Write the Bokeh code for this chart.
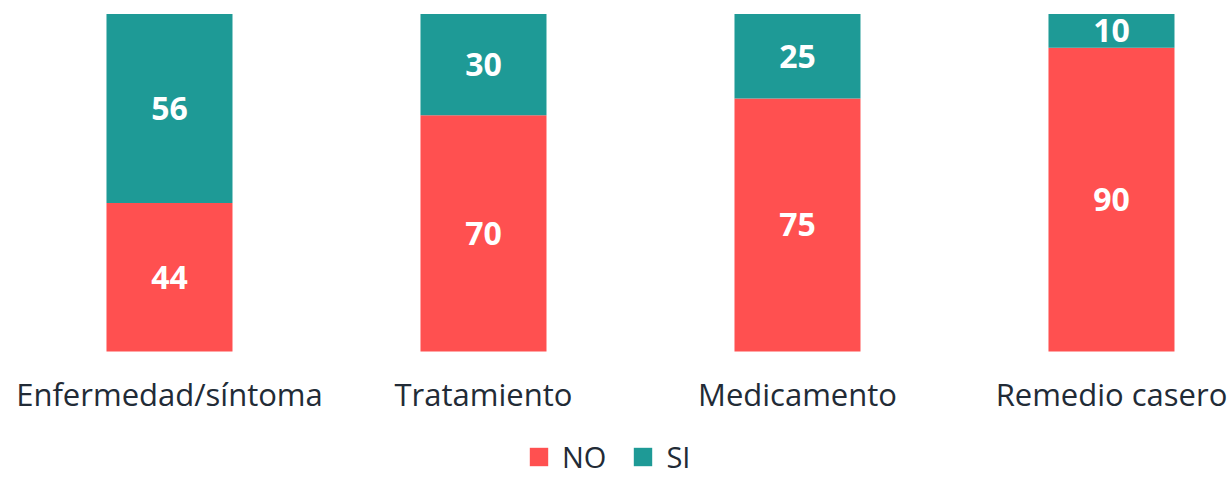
from bokeh.plotting import figure
from bokeh.models import ColumnDataSource, Range1d, Legend, LegendItem
from bokeh.core.properties import value
from bokeh.embed import file_html
from bokeh.resources import INLINE

categories = ["Enfermedad/síntoma", "Tratamiento", "Medicamento", "Remedio casero"]
no_values = [44, 70, 75, 90]
si_values = [56, 30, 25, 10]

RED = "#FF5050"
TEAL = "#1E9A96"
TEXT = "#222B36"

xs = list(range(len(categories)))
source = ColumnDataSource(dict(x=xs, NO=no_values, SI=si_values))

p = figure(frame_width=1232, frame_height=477, x_range=Range1d(-0.5382, 3.3854), y_range=Range1d(-37.33, 104.0),
           output_backend="svg", toolbar_location=None, x_axis_location=None, y_axis_location=None,
           min_border=0)
p.outline_line_color = None
p.xgrid.visible = False
p.ygrid.visible = False

rs = p.vbar_stack(["NO", "SI"], x="x", width=0.4013, color=[RED, TEAL], line_color=None, source=source)

lab = ColumnDataSource(dict(
    x=xs + xs,
    y=[v / 2 for v in no_values] + [n + s / 2 for n, s in zip(no_values, si_values)],
    t=[str(v) for v in no_values] + [str(v) for v in si_values],
))
p.text(x="x", y="y", text="t", source=lab, text_align="center", text_baseline="middle",
       text_color="white", text_font=value("Open Sans"), text_font_style="bold", text_font_size="32px")

cat_src = ColumnDataSource(dict(x=xs, y=[-12.6] * len(xs), t=categories))
p.text(x="x", y="y", text="t", source=cat_src, text_align="center", text_baseline="middle",
       text_color=TEXT, text_font=value("Open Sans"), text_font_size="31px")

legend = Legend(items=[LegendItem(label="NO", renderers=[rs[0]]), LegendItem(label="SI", renderers=[rs[1]])],
                orientation="horizontal", location=(527, 1), glyph_width=23, glyph_height=23,
                label_standoff=12, spacing=25, label_text_font="Open Sans", label_text_font_size="29px",
                label_text_color=TEXT, border_line_color=None, padding=0, margin=0,
                background_fill_alpha=0)
p.add_layout(legend, "center")

open("out.html", "w").write(file_html(p, INLINE))
